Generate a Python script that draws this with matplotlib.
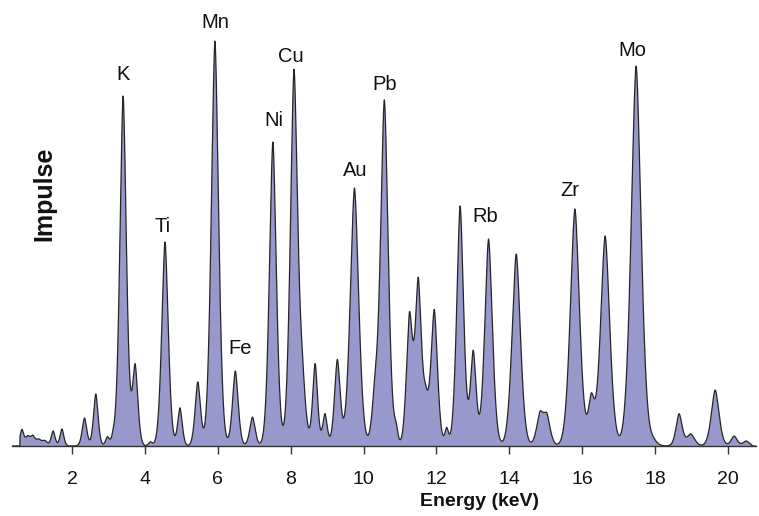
import matplotlib
matplotlib.use('Agg')
import numpy as np
import matplotlib.pyplot as plt

plt.rcParams['font.family'] = ['Liberation Sans', 'DejaVu Sans']

# peaks: energy (keV), height (counts, arb.), width (keV)
peak_energy = [0.62, 0.78, 0.92, 1.08, 1.25, 1.48, 1.72,
               2.34, 2.65, 2.97, 3.13, 3.40, 3.73, 4.15, 4.55, 4.96,
               5.45, 5.92, 6.48, 6.95, 7.51, 8.09, 8.32, 8.67, 8.94,
               9.28, 9.75, 10.31, 10.57, 10.89, 11.26, 11.50, 11.70,
               11.94, 12.28, 12.65, 13.01, 13.43, 14.19, 14.84, 15.03,
               15.80, 16.25, 16.63, 17.48, 17.95, 18.66, 18.98, 19.65,
               20.17, 20.50]
peak_height = [16, 9, 9, 6, 5, 15, 17,
               28, 52, 9, 8, 350, 80, 4, 204, 38,
               64, 405, 75, 29, 304, 372, 55, 82, 32,
               86, 258, 45, 345, 15, 128, 160, 40,
               135, 17, 240, 94, 207, 192, 30, 28,
               237, 45, 210, 380, 5, 32, 12, 56,
               10, 5]
peak_width = [0.05, 0.06, 0.06, 0.07, 0.07, 0.05, 0.05,
              0.06, 0.06, 0.05, 0.05, 0.085, 0.07, 0.05, 0.085, 0.06,
              0.07, 0.095, 0.075, 0.07, 0.09, 0.095, 0.09, 0.065, 0.06,
              0.075, 0.11, 0.08, 0.10, 0.05, 0.08, 0.08, 0.08,
              0.085, 0.05, 0.09, 0.075, 0.10, 0.11, 0.09, 0.09,
              0.12, 0.08, 0.12, 0.13, 0.10, 0.08, 0.10, 0.10,
              0.08, 0.08]
spectrum_start, spectrum_end = 0.57, 20.66

# element labels
label_text = ['K', 'Ti', 'Mn', 'Fe', 'Ni', 'Cu', 'Au', 'Pb', 'Rb', 'Zr', 'Mo']
label_x = [3.40, 4.47, 5.94, 6.62, 7.53, 8.01, 9.78, 10.58, 13.34, 15.67, 17.37]
label_y = [371, 220, 424, 98, 326, 389, 276, 361, 229, 256, 396]

energy = np.linspace(0.35, 20.77, 5000)
counts = np.zeros_like(energy)
for e0, h, w in zip(peak_energy, peak_height, peak_width):
    counts += h * np.exp(-0.5 * (np.abs(energy - e0) / w) ** 1.7)
counts[(energy < spectrum_start) | (energy > spectrum_end)] = 0

fig = plt.figure(figsize=(7.59, 5.16), dpi=100)
ax = fig.add_axes([12 / 759, 70 / 516, 744 / 759, 420 / 516])
ax.fill_between(energy, counts, 0, facecolor='#9898cc', edgecolor='none')
ax.plot(energy, counts, color='#262626', lw=0.9)

for t, x, y in zip(label_text, label_x, label_y):
    ax.text(x, y, t, ha='center', va='center', fontsize=14.5, color='#111111')

ax.set_xlim(0.35, 20.77)
ax.set_ylim(0, 420)
ax.set_xticks([2, 4, 6, 8, 10, 12, 14, 16, 18, 20])
ax.set_yticks([])
for s in ['top', 'right', 'left']:
    ax.spines[s].set_visible(False)
ax.spines['bottom'].set_color('#333333')
ax.spines['bottom'].set_linewidth(1.0)
ax.tick_params(axis='x', length=6, width=1, color='#333333', labelsize=14,
               pad=12, labelcolor='#111111')
ax.set_xlabel('Energy (keV)', fontsize=14, fontweight='bold', color='#111111')
ax.xaxis.set_label_coords(0.629, -0.112)
fig.text(44 / 759, 1 - 194 / 516, 'Impulse', rotation=90, ha='center',
         va='center', fontsize=18, fontweight='bold', color='#111111')

fig.savefig('out.png', dpi=100)
